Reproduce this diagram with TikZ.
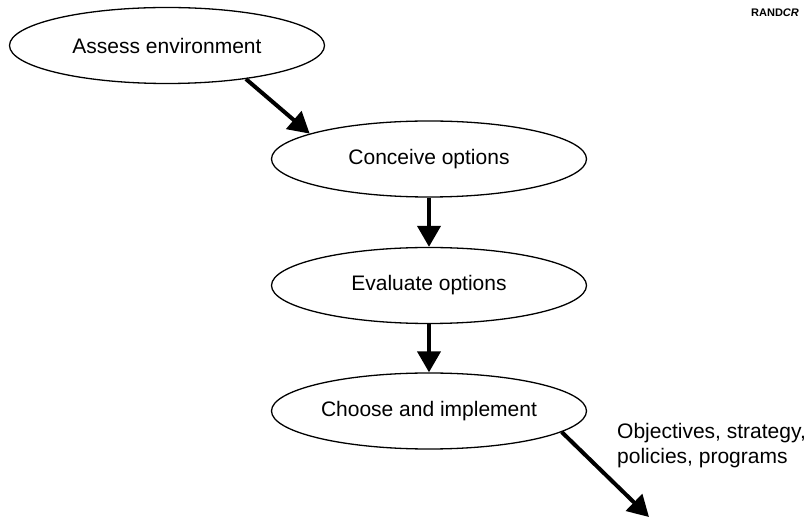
\documentclass[tikz,border=0pt]{standalone}
\usepackage{fontspec}
\setmainfont{Liberation Sans}
\usetikzlibrary{shapes.geometric,arrows.meta}
\begin{document}
\begin{tikzpicture}[x=1pt,y=1pt,
  stage/.style={ellipse, draw, line width=1.3pt, inner sep=0pt,
    minimum width=315pt, minimum height=76pt,
    font=\fontsize{21}{25}\selectfont},
  flow/.style={line width=4pt, -{Triangle[length=21pt,width=23pt]}}]
  \useasboundingbox (0,0) rectangle (807,-518);
  \clip (0,0) rectangle (807,-518);

  % process stages
  \node[stage] (assess)   at (167,-45.5) {Assess environment};
  \node[stage] (conceive) at (429,-159)  {Conceive options};
  \node[stage] (evaluate) at (429,-285.5){Evaluate options};
  \node[stage] (choose)   at (429,-411)  {Choose and implement};

  % outcome
  \coordinate (out) at (649,-517);
  \node[anchor=north west, align=left, inner sep=0pt,
    font=\fontsize{21}{25}\selectfont] (outputs) at (617,-423)
    {Objectives, strategy,\\policies, programs};

  % connectors
  \draw[flow] (assess.-23) -- (conceive.168);
  \draw[flow] (conceive.south) -- (evaluate.north);
  \draw[flow] (evaluate.south) -- (choose.north);
  \draw[flow] (choose.-9) -- (out);

  % corner tag
  \node[anchor=west, inner sep=0pt, font=\fontsize{11}{13}\selectfont\bfseries]
    (tag) at (751,-13) {RAND\textit{CR}};
\end{tikzpicture}
\end{document}
